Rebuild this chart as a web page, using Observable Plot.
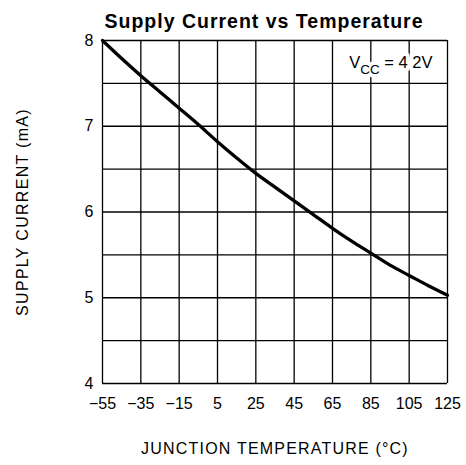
<!DOCTYPE html>
<html>
<head>
<meta charset="utf-8">
<script src="https://cdn.jsdelivr.net/npm/d3@7"></script>
<script src="https://cdn.jsdelivr.net/npm/@observablehq/plot@0.6"></script>
<style>
  html, body { margin: 0; padding: 0; background: #fff; }
</style>
</head>
<body>
<div id="chart"></div>
<script>
// Data
const temperature = [-55, -45, -35, -25, -15, -5, 5, 15, 25, 35, 45, 55, 65, 75, 85, 95, 105, 115, 125];
const supplyCurrent = [8.0, 7.79, 7.59, 7.4, 7.21, 7.02, 6.82, 6.63, 6.45, 6.29, 6.13, 5.97, 5.81, 5.66, 5.52, 5.38, 5.26, 5.14, 5.03];
const xTicks = [-55, -35, -15, 5, 25, 45, 65, 85, 105, 125];
const yTicks = [4, 5, 6, 7, 8];
const yGrid = [4, 4.5, 5, 5.5, 6, 6.5, 7, 7.5, 8];
const titleText = "Supply Current vs Temperature";
const xLabel = "JUNCTION TEMPERATURE (°C)";
const yLabel = "SUPPLY CURRENT (mA)";
const annotation = "VCC = 42V";

const data = temperature.map((t, i) => ({t, i: supplyCurrent[i]}));
const font = "'Liberation Sans', Arial, Helvetica, sans-serif";

const chart = Plot.plot({
  width: 466,
  height: 465,
  marginLeft: 102,
  marginRight: 19,
  marginTop: 40,
  marginBottom: 82,
  style: {fontFamily: font, fontSize: "16px", color: "#000", background: "#fff"},
  x: {domain: [-55, 125]},
  y: {domain: [4, 8]},
  marks: [
    Plot.ruleX(xTicks, {stroke: "#000", strokeWidth: 1.3}),
    Plot.ruleY(yGrid, {stroke: "#000", strokeWidth: 1.3}),
    Plot.line(data, {x: "t", y: "i", stroke: "#000", strokeWidth: 3.3, curve: "monotone-x"}),
    Plot.text([annotation], {
      frameAnchor: "top-right", dx: -15, dy: 27, lineAnchor: "bottom", textAnchor: "end",
      fill: "#000", stroke: "#fff", strokeWidth: 8, fontSize: 16.5
    }),
    Plot.axisX(xTicks, {tickSize: 0, tickPadding: 14, label: null, fontSize: 16,
      tickFormat: d => (d < 0 ? "\u2212" + Math.abs(d) : String(d))}),
    Plot.axisY(yTicks, {tickSize: 0, tickPadding: 9, label: null, fontSize: 16,
      tickFormat: d => String(d)}),
    Plot.text([yLabel], {frameAnchor: "left", dx: -75, rotate: -90, lineAnchor: "bottom",
      textAnchor: "middle", fontSize: 16, fill: "#000"}),
    Plot.text([xLabel], {frameAnchor: "bottom", dy: 70, lineAnchor: "bottom",
      textAnchor: "middle", fontSize: 16, fill: "#000"}),
    Plot.text([titleText], {frameAnchor: "top", dx: -11, dy: -12.7, lineAnchor: "bottom",
      textAnchor: "middle", fontSize: 19.5, fontWeight: "bold", fill: "#000"})
  ]
});

// letter spacing for axis labels and the subscript in the annotation
chart.querySelectorAll("text").forEach(t => {
  const s = t.textContent;
  if (s === yLabel) t.setAttribute("letter-spacing", "1.3");
  if (s === xLabel) t.setAttribute("letter-spacing", "1.2");
  if (s === titleText) t.setAttribute("letter-spacing", "1");
  if (s === annotation) {
    t.textContent = "";
    const ns = "http://www.w3.org/2000/svg";
    const a = document.createElementNS(ns, "tspan"); a.textContent = "V";
    const b = document.createElementNS(ns, "tspan"); b.textContent = "CC";
    b.setAttribute("font-size", "13.5"); b.setAttribute("dy", "6");
    const c = document.createElementNS(ns, "tspan"); c.textContent = " = 4 2V";
    c.setAttribute("dy", "-6"); c.setAttribute("font-size", "16.5");
    t.append(a, b, c);
  }
});

document.getElementById("chart").appendChild(chart);
</script>
</body>
</html>
